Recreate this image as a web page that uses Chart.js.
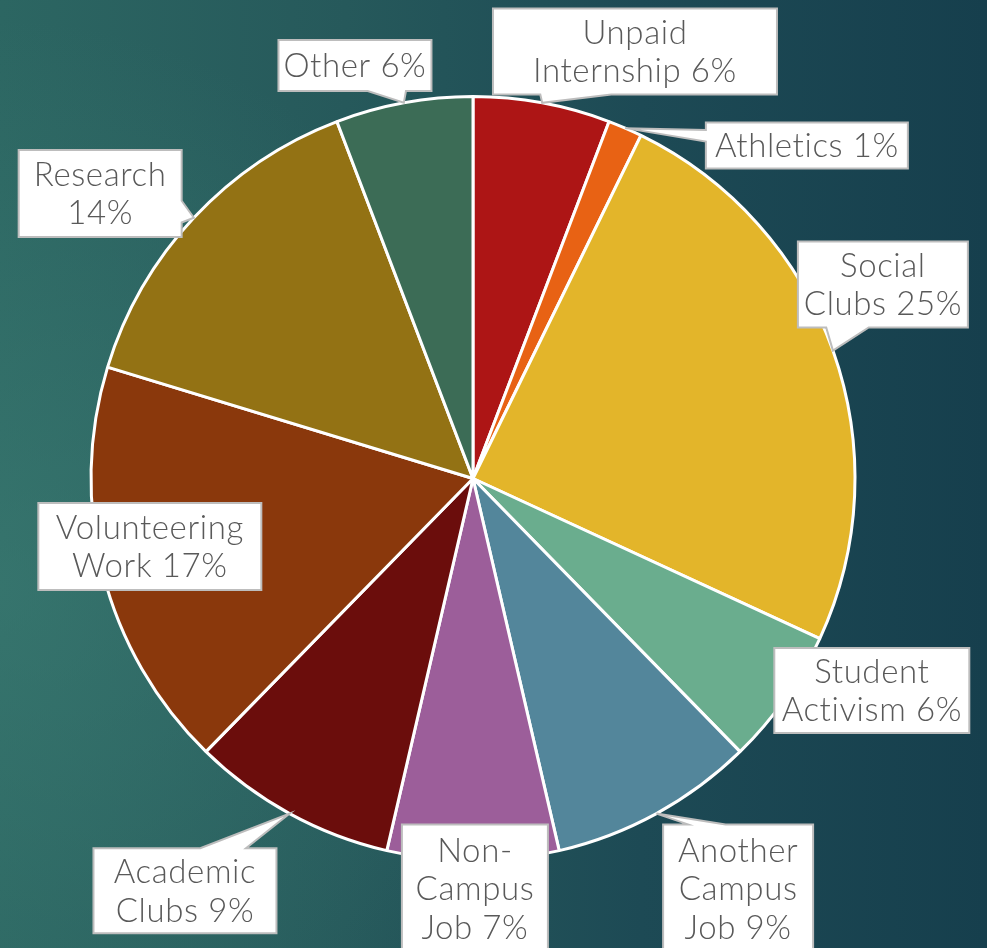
<!DOCTYPE html>
<html>
<head>
<meta charset="utf-8">
<script src="https://cdn.jsdelivr.net/npm/chart.js@4/dist/chart.umd.min.js"></script>
<style>
  html, body { margin: 0; padding: 0; overflow: hidden; }
  body {
    width: 987px; height: 948px;
    background:
      radial-gradient(ellipse 55% 60% at 0% 62%, rgba(62,128,118,0.55) 0%, rgba(62,128,118,0) 100%),
      linear-gradient(90deg, #2C6662 0%, #26595B 35%, #1D4A55 65%, #163F4D 100%);
  }
  #c { display: block; }
</style>
</head>
<body>
<canvas id="c" width="987" height="948"></canvas>
<script>
// ---- data (counts, total 69) ----
const categories = ["Unpaid Internship", "Athletics", "Social Clubs", "Student Activism", "Another Campus Job",
  "Non-Campus Job", "Academic Clubs", "Volunteering Work", "Research", "Other"];
const counts = [4, 1, 17, 4, 6, 5, 6, 12, 10, 4];
const percentLabels = ["6%", "1%", "25%", "6%", "9%", "7%", "9%", "17%", "14%", "6%"];
const labelLines = [
  ["Unpaid", "Internship 6%"],
  ["Athletics 1%"],
  ["Social", "Clubs 25%"],
  ["Student", "Activism 6%"],
  ["Another", "Campus", "Job 9%"],
  ["Non-", "Campus", "Job 7%"],
  ["Academic", "Clubs 9%"],
  ["Volunteering", "Work 17%"],
  ["Research", "14%"],
  ["Other 6%"]
];
const sliceColors = ["#AD1515", "#E86214", "#E3B52A", "#6AAD8E", "#53869B",
  "#9C5E9A", "#6B0D0C", "#8A380C", "#937214", "#3C6C56"];

// ---- callout layout (box centre offset from pie centre in radius units, and box size) ----
const calloutOffsets = [
  [0.424, -1.118], [0.874, -0.872], [1.073, -0.508], [1.044, 0.555], [0.694, 1.073],
  [0.005, 1.073], [-0.754, 1.079], [-0.846, 0.178], [-0.976, -0.746], [-0.309, -1.081]
];
const calloutSizes = [
  [284, 86], [202, 46], [170, 86], [195, 85], [150, 128],
  [146, 128], [183, 85], [223, 87], [163, 87], [153, 51]
];

const calloutPlugin = {
  id: 'callouts',
  afterDatasetsDraw(chart) {
    const ctx = chart.ctx;
    const meta = chart.getDatasetMeta(0);
    ctx.save();
    ctx.font = '300 33px Lato';
    if ('letterSpacing' in ctx) ctx.letterSpacing = '0.6px';
    ctx.textAlign = 'center';
    ctx.textBaseline = 'middle';
    meta.data.forEach((arc, i) => {
      const p = arc.getProps(['x', 'y', 'startAngle', 'endAngle', 'outerRadius'], true);
      const mid = (p.startAngle + p.endAngle) / 2;
      const tip = { x: p.x + Math.cos(mid) * p.outerRadius, y: p.y + Math.sin(mid) * p.outerRadius };
      const [w, h] = calloutSizes[i];
      const cx = p.x + calloutOffsets[i][0] * p.outerRadius;
      const cy = p.y + calloutOffsets[i][1] * p.outerRadius;
      const L = cx - w / 2, R = cx + w / 2, T = cy - h / 2, B = cy + h / 2;
      const inside = tip.x >= L && tip.x <= R && tip.y >= T && tip.y <= B;
      ctx.beginPath();
      if (inside) {
        ctx.rect(L, T, w, h);
      } else {
        const nx = (tip.x - cx) / w, ny = (tip.y - cy) / h;
        if (Math.abs(nx) > Math.abs(ny)) {
          const a = ny > 0 ? T + h * 7 / 12 : T + h / 6;
          const b = ny > 0 ? T + h * 5 / 6 : T + h * 5 / 12;
          if (nx > 0) {
            ctx.moveTo(L, T); ctx.lineTo(R, T); ctx.lineTo(R, a); ctx.lineTo(tip.x, tip.y); ctx.lineTo(R, b);
            ctx.lineTo(R, B); ctx.lineTo(L, B); ctx.closePath();
          } else {
            ctx.moveTo(R, T); ctx.lineTo(R, B); ctx.lineTo(L, B); ctx.lineTo(L, b); ctx.lineTo(tip.x, tip.y);
            ctx.lineTo(L, a); ctx.lineTo(L, T); ctx.closePath();
          }
        } else {
          const a = nx > 0 ? L + w * 7 / 12 : L + w / 6;
          const b = nx > 0 ? L + w * 5 / 6 : L + w * 5 / 12;
          if (ny > 0) {
            ctx.moveTo(L, T); ctx.lineTo(R, T); ctx.lineTo(R, B); ctx.lineTo(b, B); ctx.lineTo(tip.x, tip.y);
            ctx.lineTo(a, B); ctx.lineTo(L, B); ctx.closePath();
          } else {
            ctx.moveTo(L, T); ctx.lineTo(a, T); ctx.lineTo(tip.x, tip.y); ctx.lineTo(b, T); ctx.lineTo(R, T);
            ctx.lineTo(R, B); ctx.lineTo(L, B); ctx.closePath();
          }
        }
      }
      ctx.fillStyle = '#FFFFFF';
      ctx.fill();
      ctx.lineWidth = 2;
      ctx.strokeStyle = '#BDBDBD';
      ctx.lineJoin = 'miter';
      ctx.stroke();
      const lines = labelLines[i];
      const lh = 38.5;
      ctx.fillStyle = '#595959';
      lines.forEach((t, k) => {
        ctx.fillText(t, cx, cy + (k - (lines.length - 1) / 2) * lh + 1);
      });
    });
    ctx.restore();
  }
};

new Chart(document.getElementById('c'), {
  type: 'pie',
  data: {
    labels: categories,
    datasets: [{
      data: counts,
      backgroundColor: sliceColors,
      borderColor: '#FFFFFF',
      borderWidth: 3
    }]
  },
  options: {
    responsive: false,
    devicePixelRatio: 1,
    animation: false,
    layout: { padding: { left: 89, right: 130, top: 95, bottom: 86 } },
    plugins: { legend: { display: false }, tooltip: { enabled: false } }
  },
  plugins: [calloutPlugin]
});
</script>
</body>
</html>
